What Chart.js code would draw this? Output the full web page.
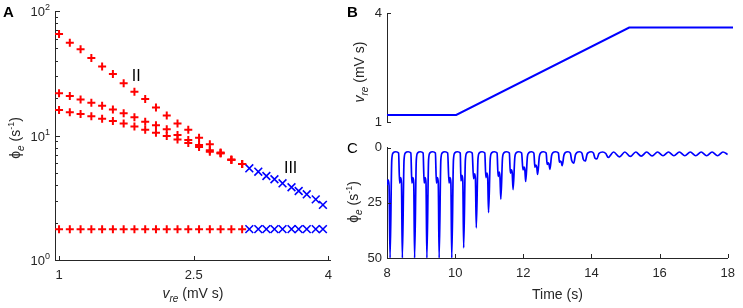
<!DOCTYPE html>
<html>
<head>
<meta charset="utf-8">
<script src="https://cdn.jsdelivr.net/npm/chart.js@4.4.0/dist/chart.umd.min.js"></script>
<style>
  body { margin: 0; background: #fff; }
  #wrap { position: relative; width: 743px; height: 308px; }
  canvas { position: absolute; }
</style>
</head>
<body>
<div id="wrap">
  <canvas id="chartA" width="340" height="308" style="left:0;top:0"></canvas>
  <canvas id="chartB" width="403" height="135" style="left:340px;top:0"></canvas>
  <canvas id="chartC" width="403" height="173" style="left:340px;top:135px"></canvas>
</div>
<script>
// ---- panel A: phi_e against v_re (log y) ----
const vRed = [1.00, 1.12, 1.24, 1.36, 1.48, 1.60, 1.72, 1.84, 1.96, 2.08, 2.20, 2.32, 2.44, 2.56, 2.68, 2.80, 2.92, 3.04];
const phiTop = [65.4, 55.6, 49.3, 41.9, 35.9, 31.2, 26.3, 22.5, 19.6, 16.8, 14.5, 12.5, 11.1, 9.6, 8.5, 7.3, 6.4, 5.9];
const phiMid = [21.8, 20.8, 19.5, 18.3, 17.3, 16.2, 15.1, 14.0, 12.9, 12.1, 11.2, 10.1, 9.2, 8.4, 7.6, 7.2, 6.4, 5.9];
const phiLow = [16.0, 15.4, 14.9, 14.3, 13.6, 13.1, 12.5, 11.8, 11.1, 10.5, 9.9, 9.3, 8.7, 8.1, 7.4, 7.2, 6.4, 5.9];
const phiRedFlat = [1.77, 1.77, 1.77, 1.77, 1.77, 1.77, 1.77, 1.77, 1.77, 1.77, 1.77, 1.77, 1.77, 1.77, 1.77, 1.77, 1.77, 1.77];
const vBlue = [3.12, 3.22, 3.31, 3.40, 3.49, 3.59, 3.67, 3.76, 3.86, 3.94];
const phiBlue = [5.45, 5.12, 4.73, 4.45, 4.13, 3.84, 3.58, 3.37, 3.07, 2.77];
const phiBlueFlat = [1.77, 1.77, 1.77, 1.77, 1.77, 1.77, 1.77, 1.77, 1.77, 1.77];
const aTicksX = [1, 2.5, 4];
const aTicksY = [1, 10, 100];
const aMinorY = [2, 3, 4, 5, 6, 7, 8, 9, 20, 30, 40, 50, 60, 70, 80, 90];
const regionNames = ['II', 'III'];
const regionX = [1.86, 3.58];
const regionY = [30, 5.4];

// ---- panel B: v_re ramp ----
const bTime = [8, 10, 15, 18];
const bVre = [1.2, 1.2, 3.6, 3.6];
const bTicksY = [1, 4];

// ---- panel C: phi_e time trace ----
const cTime = [
  8.00, 8.03, 8.06,
  8.09, 8.14, 8.18, 8.26, 8.34, 8.37, 8.40, 8.425,
  8.45, 8.50, 8.54, 8.62, 8.70, 8.73, 8.76, 8.785,
  8.81, 8.86, 8.90, 8.98, 9.06, 9.09, 9.12, 9.145,
  9.17, 9.22, 9.26, 9.34, 9.42, 9.45, 9.48, 9.505,
  9.53, 9.58, 9.62, 9.70, 9.78, 9.82, 9.85, 9.875,
  9.90, 9.95, 9.99, 10.07, 10.15, 10.17, 10.20, 10.225,
  10.25, 10.30, 10.34, 10.42, 10.50, 10.54, 10.57, 10.595,
  10.62, 10.67, 10.71, 10.79, 10.87, 10.90, 10.93, 10.955,
  10.98, 11.03, 11.07, 11.15, 11.23, 11.26, 11.29, 11.315,
  11.34, 11.39, 11.43, 11.51, 11.59, 11.62, 11.65, 11.675,
  11.70, 11.75, 11.79, 11.87, 11.95, 11.99, 12.02, 12.045,
  12.07, 12.12, 12.16, 12.24, 12.31, 12.34, 12.37, 12.395,
  12.42, 12.47, 12.51, 12.59, 12.67, 12.70, 12.73, 12.755,
  12.78, 12.83, 12.87, 12.95, 13.03, 13.06, 13.09, 13.115,
  13.14, 13.19, 13.23, 13.31, 13.38, 13.42,
  13.48, 13.53, 13.57, 13.65, 13.72, 13.76,
  13.82, 13.87, 13.91, 13.99, 14.06, 14.10,
  14.16, 14.22, 14.33, 14.42,
  14.49, 14.65, 14.82, 14.98, 15.14, 15.30, 15.46, 15.62, 15.78, 15.94,
  16.10, 16.26, 16.42, 16.58, 16.74, 16.90, 17.06, 17.22, 17.38, 17.54,
  17.70, 17.86, 18.00
];
const cPhi = [
  17, 14.5, 17,
  50, 5.5, 2.3, 1.8, 2.4, 16, 13.5, 16,
  50, 5.5, 2.3, 1.8, 2.4, 16, 13.5, 16,
  50, 5.5, 2.3, 1.8, 2.4, 16, 13.5, 16,
  50, 5.5, 2.3, 1.8, 2.4, 16, 13.5, 16,
  50, 5.5, 2.3, 1.8, 2.4, 16, 13.5, 16,
  50, 5.5, 2.3, 1.8, 2.4, 15, 12.5, 15,
  45.4, 5.5, 2.3, 1.8, 2.4, 14, 11.8, 14,
  36.3, 5, 2.3, 1.8, 2.4, 13.5, 11.5, 13.5,
  29.4, 5, 2.3, 1.8, 2.4, 13, 11, 13,
  23.3, 4.5, 2.3, 1.8, 2.4, 11.5, 10, 11.5,
  19, 4.5, 2.3, 1.8, 2.4, 10, 8.8, 10,
  15.3, 4, 2.3, 1.8, 2.4, 8.8, 7.8, 8.8,
  12.1, 4, 2.3, 1.8, 2.4, 7.5, 6.8, 7.5,
  9.8, 3.5, 2.2, 1.8, 2.4, 6.5, 6, 6.5,
  8.1, 3.5, 2.2, 1.8, 2.4, 5.8,
  7.0, 3.2, 2.2, 1.8, 2.4, 5.2,
  6.0, 3.0, 2.2, 1.8, 2.4, 4.6,
  5.0, 2.6, 1.9, 2.6,
  4.4, 1.9, 4.1, 1.9, 3.9, 1.9, 3.8, 1.9, 3.7, 1.9,
  3.6, 1.9, 3.6, 1.9, 3.6, 1.9, 3.6, 1.9, 3.6, 1.9,
  3.6, 1.9, 3.0
];
const cTicksX = [8, 10, 12, 14, 16, 18];
const cTicksY = [0, 25, 50];

const INK = '#262626';
const FONT = '"Liberation Sans", Arial, Helvetica, sans-serif';
const RED = '#ff0000';
const BLUE = '#0000ff';

Chart.defaults.font.family = FONT;
Chart.defaults.color = INK;
Chart.defaults.animation = false;

const pts = (xs, ys) => xs.map((x, i) => ({ x: x, y: ys[i] }));
const setTicks = list => scale => { scale.ticks = list.map(v => ({ value: v })); };

// text with sub/superscripts: parts = [text, size, italic, dy]
function drawRich(ctx, parts, x, y, rot, bold) {
  ctx.save();
  ctx.translate(x, y);
  if (rot) ctx.rotate(rot);
  const fontOf = p => (p[2] ? 'italic ' : '') + (bold ? 'bold ' : '') + p[1] + 'px ' + FONT;
  let w = 0;
  parts.forEach(p => { ctx.font = fontOf(p); w += ctx.measureText(p[0]).width; });
  let cx = -w / 2;
  ctx.fillStyle = INK;
  ctx.textBaseline = 'alphabetic';
  parts.forEach(p => {
    ctx.font = fontOf(p);
    ctx.fillText(p[0], cx, p[3] || 0);
    cx += ctx.measureText(p[0]).width;
  });
  ctx.restore();
}

function inTicks(chart, id, values, len) {
  const s = chart.scales[id], a = chart.chartArea, ctx = chart.ctx;
  ctx.save();
  ctx.strokeStyle = INK;
  ctx.lineWidth = 1;
  ctx.beginPath();
  values.forEach(v => {
    const p = Math.round(s.getPixelForValue(v)) + 0.5;
    if (s.isHorizontal()) { ctx.moveTo(p, a.bottom); ctx.lineTo(p, a.bottom - len); }
    else { ctx.moveTo(a.left, p); ctx.lineTo(a.left + len, p); }
  });
  ctx.stroke();
  ctx.restore();
}

function letter(ctx, txt, x, y, bold) {
  ctx.save();
  ctx.font = (bold ? 'bold ' : '') + '15px ' + FONT;
  ctx.fillStyle = '#000';
  ctx.textBaseline = 'alphabetic';
  ctx.fillText(txt, x, y);
  ctx.restore();
}

const phiTitle = [['ϕ', 14, false, 0], ['e', 10, true, 4], [' (s', 14, false, 0], ['-1', 9, false, -6], [')', 14, false, 0]];
const vreTitle = [['v', 14, true, 0], ['re', 10, true, 4], [' (mV s)', 14, false, 0]];

const baseScale = {
  grid: { display: false, drawTicks: false },
  border: { color: INK, width: 1 },
  ticks: { font: { size: 13 }, color: INK }
};

// ---- chart A ----
new Chart(document.getElementById('chartA'), {
  type: 'scatter',
  data: {
    datasets: [
      { data: pts(vRed, phiTop), pointStyle: 'cross', pointRadius: 4, pointBorderWidth: 2, pointBorderColor: RED, clip: false },
      { data: pts(vRed, phiMid), pointStyle: 'cross', pointRadius: 4, pointBorderWidth: 2, pointBorderColor: RED, clip: false },
      { data: pts(vRed, phiLow), pointStyle: 'cross', pointRadius: 4, pointBorderWidth: 2, pointBorderColor: RED, clip: false },
      { data: pts(vRed, phiRedFlat), pointStyle: 'cross', pointRadius: 4, pointBorderWidth: 2, pointBorderColor: RED, clip: false },
      { data: pts(vBlue, phiBlue), pointStyle: 'crossRot', pointRadius: 5.5, pointBorderWidth: 1.6, pointBorderColor: BLUE, clip: false },
      { data: pts(vBlue, phiBlueFlat), pointStyle: 'crossRot', pointRadius: 5.5, pointBorderWidth: 1.6, pointBorderColor: BLUE, clip: false }
    ]
  },
  options: {
    responsive: false,
    events: [],
    layout: { padding: { top: 11, right: 8, left: 0, bottom: 0 } },
    plugins: { legend: { display: false }, tooltip: { enabled: false } },
    scales: {
      x: Object.assign({}, baseScale, {
        type: 'linear', min: 0.955, max: 4.03,
        afterBuildTicks: setTicks(aTicksX),
        afterFit: s => { s.height = 48; },
        ticks: { font: { size: 13 }, color: INK, padding: 8 }
      }),
      y: Object.assign({}, baseScale, {
        type: 'logarithmic', min: 1, max: 100,
        afterFit: s => { s.width = 55; },
        ticks: { display: false }
      })
    }
  },
  plugins: [{
    id: 'decorA',
    afterDraw(chart) {
      const ctx = chart.ctx, a = chart.chartArea, ys = chart.scales.y, xs = chart.scales.x;
      inTicks(chart, 'x', aTicksX, 4);
      inTicks(chart, 'y', aTicksY, 5);
      inTicks(chart, 'y', aMinorY, 3);
      // log tick labels with superscript exponents
      ctx.save();
      ctx.fillStyle = INK;
      ctx.textBaseline = 'alphabetic';
      aTicksY.forEach(v => {
        const py = ys.getPixelForValue(v);
        const ex = String(Math.round(Math.log10(v)));
        ctx.font = '9px ' + FONT;
        const ew = ctx.measureText(ex).width;
        ctx.textAlign = 'left';
        ctx.fillText(ex, a.left - 5 - ew, py - 1);
        ctx.font = '13px ' + FONT;
        ctx.textAlign = 'right';
        ctx.fillText('10', a.left - 5 - ew, py + 5);
      });
      // regime labels
      ctx.font = '16px ' + FONT;
      ctx.fillStyle = '#000';
      ctx.textAlign = 'center';
      ctx.textBaseline = 'middle';
      regionNames.forEach((t, i) => {
        ctx.fillText(t, xs.getPixelForValue(regionX[i]), ys.getPixelForValue(regionY[i]));
      });
      ctx.restore();
      drawRich(ctx, phiTitle, 20, 138, -Math.PI / 2);
      drawRich(ctx, vreTitle, (a.left + a.right) / 2, 298, 0);
      letter(ctx, 'A', 3, 17, true);
    }
  }]
});

// ---- chart B ----
new Chart(document.getElementById('chartB'), {
  type: 'line',
  data: {
    datasets: [{ data: pts(bTime, bVre), borderColor: BLUE, borderWidth: 2, pointRadius: 0, tension: 0 }]
  },
  options: {
    responsive: false,
    events: [],
    layout: { padding: { top: 13, right: 10, left: 0, bottom: 5 } },
    plugins: { legend: { display: false }, tooltip: { enabled: false } },
    scales: {
      x: { type: 'linear', min: 8, max: 18, display: false },
      y: Object.assign({}, baseScale, {
        min: 1, max: 4,
        afterBuildTicks: setTicks(bTicksY),
        afterFit: s => { s.width = 47; },
        ticks: { font: { size: 13 }, color: INK, padding: 5 }
      })
    }
  },
  plugins: [{
    id: 'decorB',
    afterDraw(chart) {
      const ctx = chart.ctx;
      inTicks(chart, 'y', bTicksY, 4);
      drawRich(ctx, vreTitle, 24, 72, -Math.PI / 2);
      letter(ctx, 'B', 7, 17, true);
    }
  }]
});

// ---- chart C ----
new Chart(document.getElementById('chartC'), {
  type: 'line',
  data: {
    datasets: [{ data: pts(cTime, cPhi), borderColor: BLUE, borderWidth: 1.7, pointRadius: 0, cubicInterpolationMode: 'monotone' }]
  },
  options: {
    responsive: false,
    events: [],
    layout: { padding: { top: 12, right: 10, left: 0, bottom: 0 } },
    plugins: { legend: { display: false }, tooltip: { enabled: false } },
    scales: {
      x: Object.assign({}, baseScale, {
        type: 'linear', min: 8, max: 18,
        afterBuildTicks: setTicks(cTicksX),
        afterFit: s => { s.height = 50; },
        ticks: { font: { size: 13 }, color: INK, padding: 8 }
      }),
      y: Object.assign({}, baseScale, {
        min: 0, max: 50, reverse: true,
        afterBuildTicks: setTicks(cTicksY),
        afterFit: s => { s.width = 47; },
        ticks: { font: { size: 13 }, color: INK, padding: 5 }
      })
    }
  },
  plugins: [{
    id: 'decorC',
    afterDraw(chart) {
      const ctx = chart.ctx, a = chart.chartArea;
      inTicks(chart, 'x', cTicksX, 4);
      inTicks(chart, 'y', cTicksY, 4);
      drawRich(ctx, phiTitle, 18, 67, -Math.PI / 2);
      drawRich(ctx, [['Time (s)', 14, false, 0]], (a.left + a.right) / 2, 164, 0);
      letter(ctx, 'C', 7, 18, false);
    }
  }]
});
</script>
</body>
</html>
